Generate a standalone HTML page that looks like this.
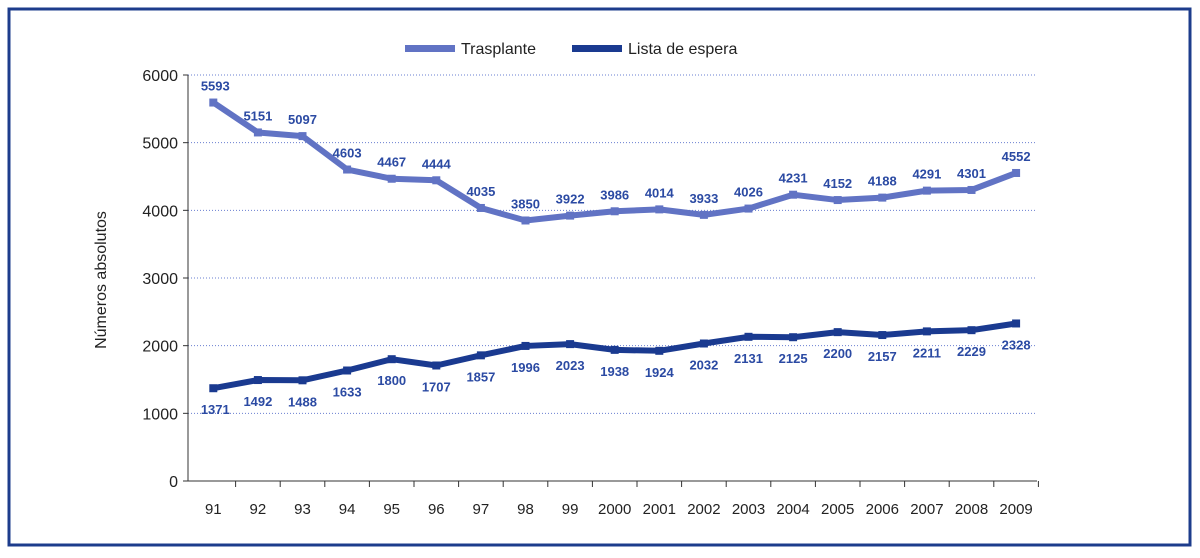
<!DOCTYPE html>
<html><head><meta charset="utf-8"><style>
body{margin:0;background:#fff;width:1200px;height:553px;overflow:hidden;font-family:"Liberation Sans",sans-serif}
</style></head><body>
<svg width="1200" height="553">
<rect x="9" y="9" width="1181" height="536" fill="#fff" stroke="#1d3c8c" stroke-width="3"/>
<g id="g"></g>
</svg>
<script>
const categories=["91","92","93","94","95","96","97","98","99","2000","2001","2002","2003","2004","2005","2006","2007","2008","2009"];
const trasplante=[5593,5151,5097,4603,4467,4444,4035,3850,3922,3986,4014,3933,4026,4231,4152,4188,4291,4301,4552];
const lista=[1371,1492,1488,1633,1800,1707,1857,1996,2023,1938,1924,2032,2131,2125,2200,2157,2211,2229,2328];
const yTicks=[0,1000,2000,3000,4000,5000,6000];
const NS="http://www.w3.org/2000/svg",g=document.getElementById('g');
const x0=191,bw=44.6,y0=481,yTop=75,yMax=6000;
const X=i=>x0+bw*(i+0.5), Y=v=>y0-(y0-yTop)*v/yMax;
function el(t,a,p){const e=document.createElementNS(NS,t);for(const k in a)e.setAttribute(k,a[k]);(p||g).appendChild(e);return e;}
yTicks.forEach(v=>{
 if(v>0){const l=el('line',{x1:188,x2:1037,y1:Y(v),y2:Y(v),stroke:'#6a7fd0','stroke-width':1,'stroke-dasharray':'1,2'});
 
 }
 const t=el('text',{x:178,y:Y(v)+6,'text-anchor':'end','font-size':16,fill:'#222'});t.textContent=v;
 
 
 el('line',{x1:183,x2:188,y1:Y(v),y2:Y(v),stroke:'#333'});
});
el('line',{x1:188,x2:188,y1:Y(6000),y2:y0,stroke:'#333'});
el('line',{x1:188,x2:1037,y1:y0,y2:y0,stroke:'#333'});
categories.forEach((c,i)=>{
 el('line',{x1:x0+bw*(i+1),x2:x0+bw*(i+1),y1:y0,y2:y0+6,stroke:'#333'});
 const t=el('text',{x:X(i),y:514,'text-anchor':'middle','font-size':15,fill:'#222'});t.textContent=c;
 
 
});
const yt=el('text',{transform:'translate(106,280) rotate(-90)','text-anchor':'middle','font-size':16,fill:'#222'});yt.textContent='Números absolutos';


function series(d,col,name,above){
 const p=el('polyline',{points:d.map((v,i)=>X(i)+','+Y(v)).join(' '),fill:'none',stroke:col,'stroke-width':6,'stroke-linejoin':'round'});
 
 
 d.forEach((v,i)=>{
  const m=el('rect',{x:X(i)-4,y:Y(v)-4,width:8,height:8,fill:col});
  
  
  const t=el('text',{x:X(i)+(i==0?2:0),y:above?Y(v)-12:Y(v)+26,'text-anchor':'middle','font-size':13,'font-weight':'bold',fill:'#2b4aa3'});t.textContent=v;
  
  
 });
}
series(trasplante,'#6173c4','trasplante',true);
series(lista,'#1a3a90','lista',false);
[[405,'#6173c4','Trasplante'],[572,'#1a3a90','Lista de espera']].forEach(([x,c,n])=>{
 const r=el('rect',{x:x,y:45,width:50,height:7,fill:c});
 
 
 const t=el('text',{x:x+56,y:54,'font-size':16,fill:'#222'});t.textContent=n;
 
 
});
</script>
</body></html>
